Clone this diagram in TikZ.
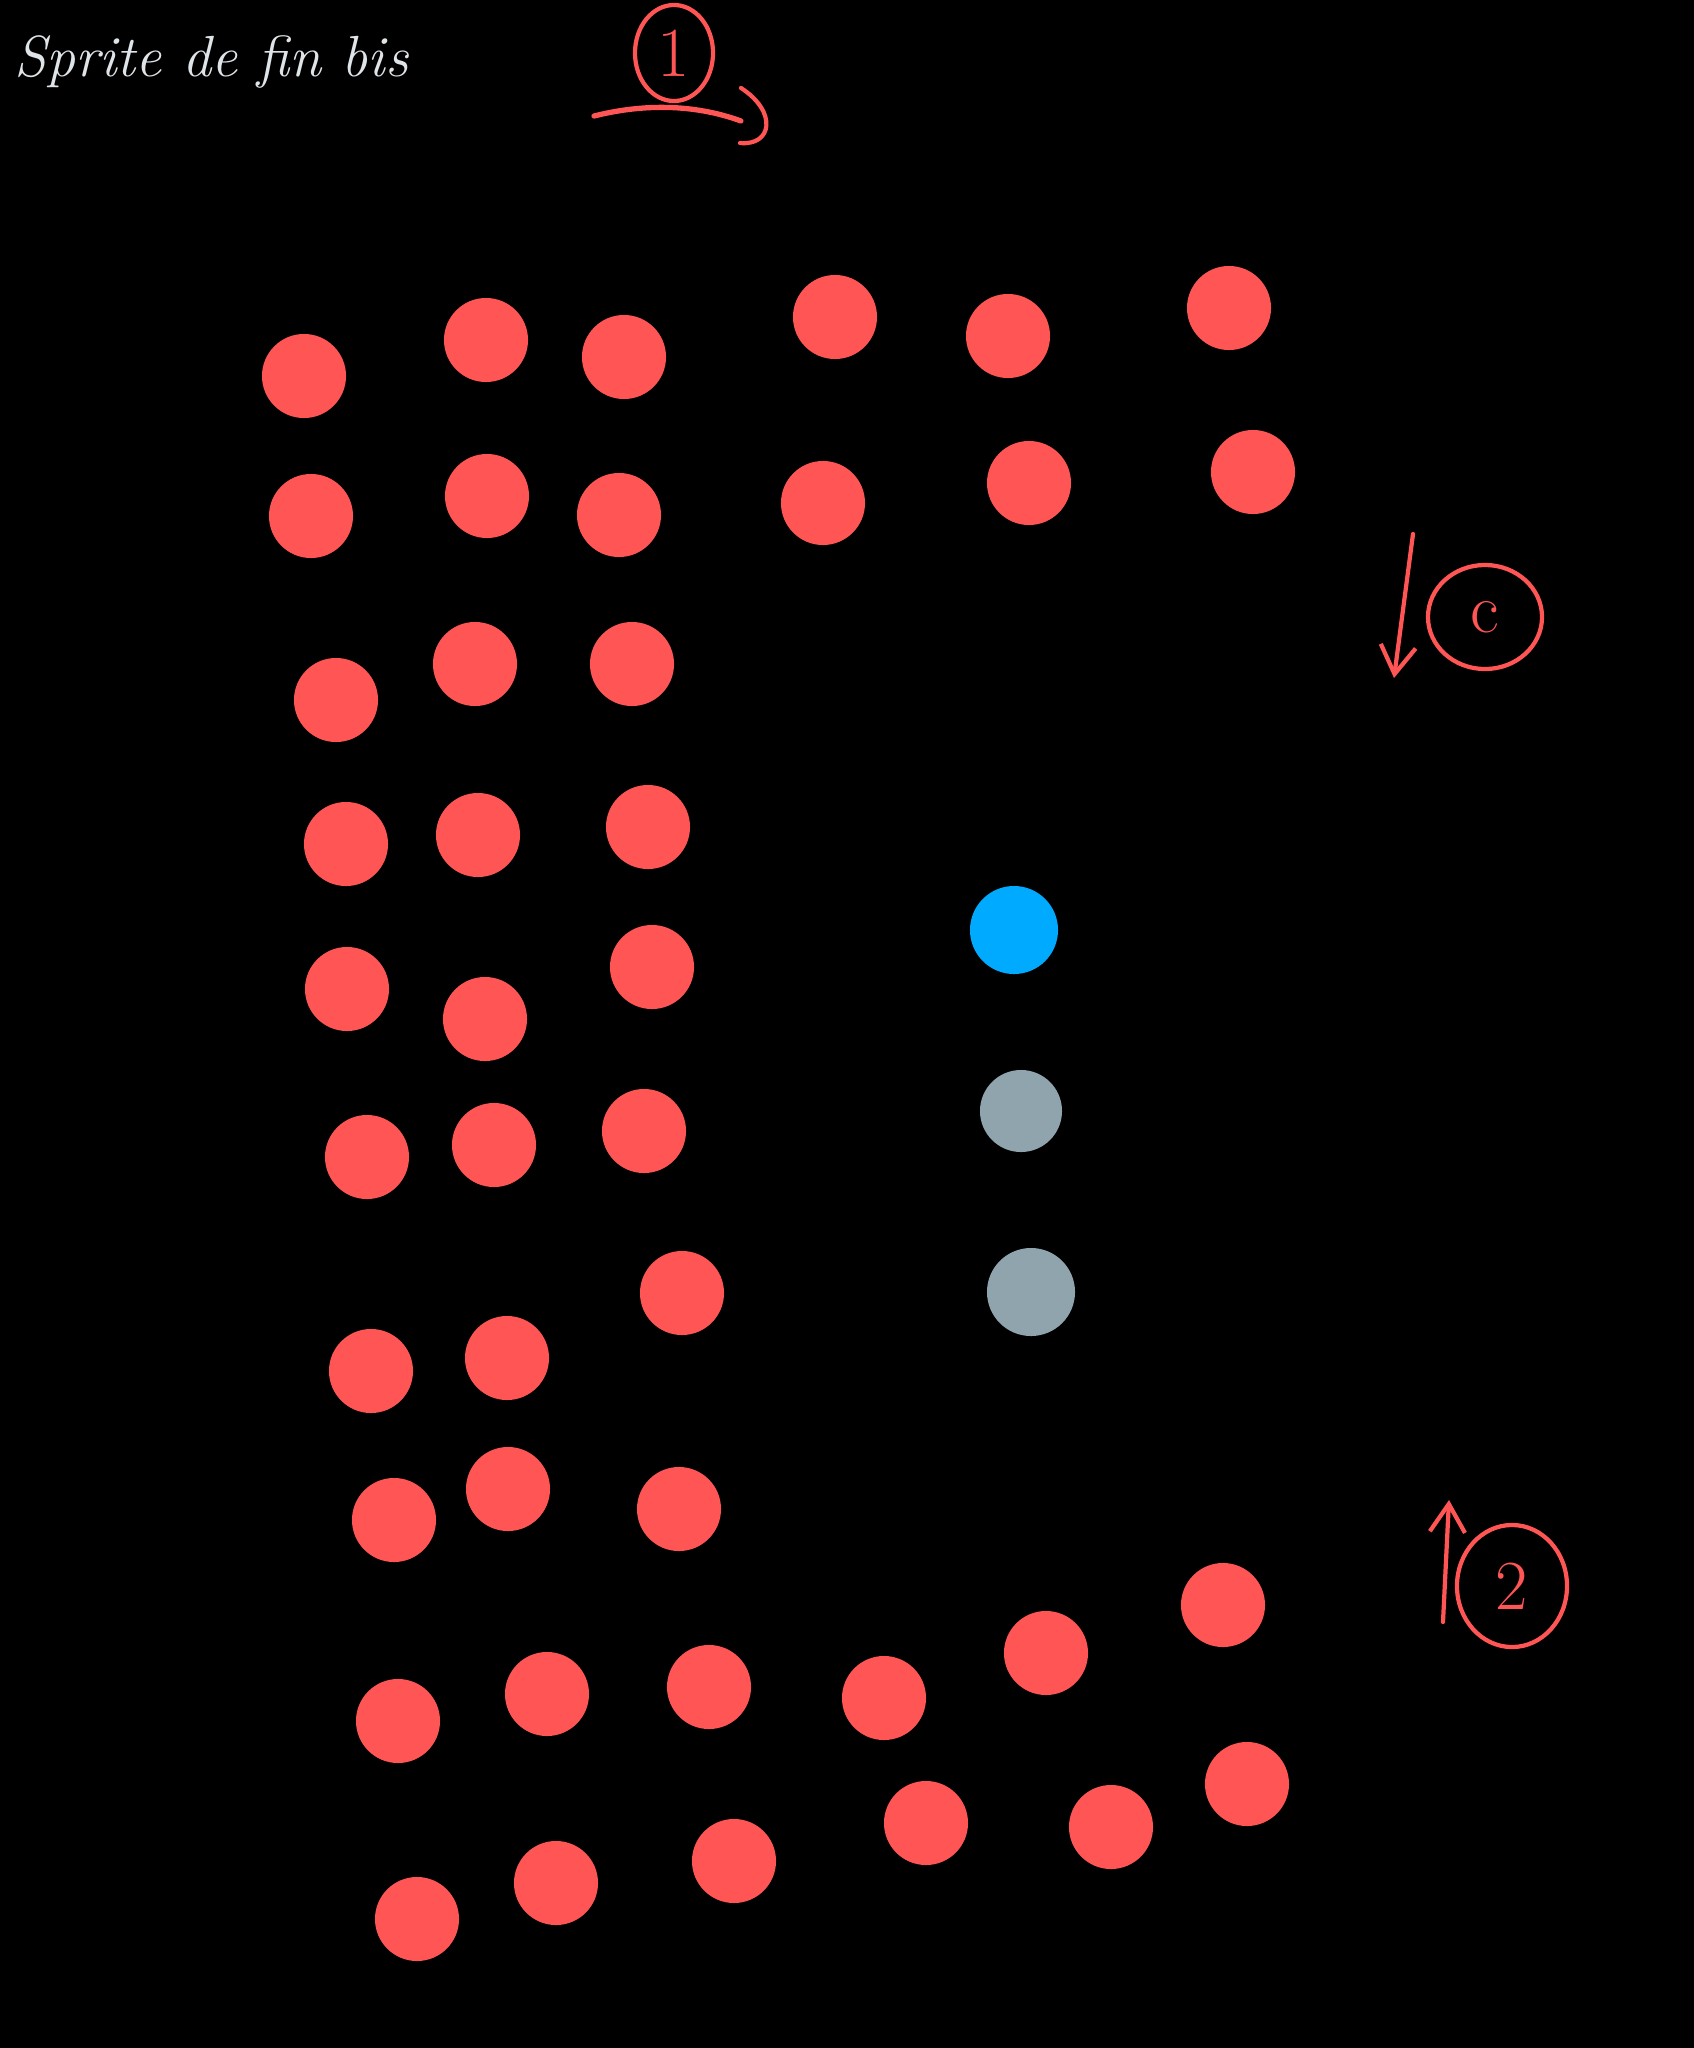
\documentclass[tikz,border=0pt]{standalone}
\usepackage{tikz}
\usetikzlibrary{arrows.meta, shapes.geometric}
\definecolor{spritered}{RGB}{255, 85, 85}
\definecolor{playerblue}{RGB}{0, 170, 255}
\definecolor{ghostgray}{RGB}{144, 164, 174}
\definecolor{chalk}{RGB}{222, 228, 232}

\begin{document}
\begin{tikzpicture}[>={Straight Barb[length=8pt, width=10pt]}, x=0.01cm, y=-0.01cm,
  pen/.style={spritered, line width=1.2pt, line cap=round, line join=round},
  tag/.style={ellipse, draw=spritered, line width=1.2pt, text=spritered,
              font=\fontsize{20}{20}\selectfont, inner sep=0pt}]
  % background (fixes the page size)
  \fill[black] (0,0) rectangle (1694,2048);

  % title
  \node[chalk, anchor=base west, inner sep=0pt, font=\itshape\fontsize{16.5}{16.5}\selectfont]
    (title) at (14,76) {Sprite de fin bis};

  % step 1 : circled number with its curved arrow
  \node[tag, minimum width=0.78cm, minimum height=0.96cm] (one) at (674,53) {1};
  \draw[pen, line width=1.5pt] (594,116) .. controls (650,102) and (700,106) .. (741,121);
  \draw[pen] (741,88) .. controls (778,112) and (772,146) .. (740,143);

  % step c : circled letter, arrow going down
  \node[tag, minimum width=1.14cm, minimum height=1.04cm] (down) at (1485,617) {c};
  \coordinate (downtop) at (1413,534);
  \coordinate (downend) at (1394,678);
  \draw[pen, ->] (downtop) -- (downend);

  % step 2 : circled number, arrow going up
  \node[tag, minimum width=1.10cm, minimum height=1.22cm] (two) at (1512,1586) {2};
  \coordinate (upstart) at (1443,1622);
  \coordinate (uptop) at (1449,1500);
  \draw[pen, ->] (upstart) -- (uptop);

  % red sprite dots
  \foreach \x/\y in {304/376, 486/340, 624/357, 835/317, 1008/336, 1229/308,
                     311/516, 487/496, 619/515, 823/503, 1029/483, 1253/472,
                     336/700, 475/664, 632/664,
                     346/844, 478/835, 648/827,
                     347/989, 485/1019, 652/967,
                     367/1157, 494/1145, 644/1131,
                     682/1293,
                     371/1371, 507/1358,
                     394/1520, 508/1489, 679/1509,
                     398/1721, 547/1694, 709/1687, 884/1698, 1046/1653, 1223/1605,
                     417/1919, 556/1883, 734/1861, 926/1823, 1111/1827, 1247/1784}
    \fill[spritered] (\x,\y) circle (0.42cm);

  % player and gray dots
  \fill[playerblue] (1014,930) circle (0.44cm);
  \fill[ghostgray] (1021,1111) circle (0.41cm);
  \fill[ghostgray] (1031,1292) circle (0.44cm);
\end{tikzpicture}
\end{document}
